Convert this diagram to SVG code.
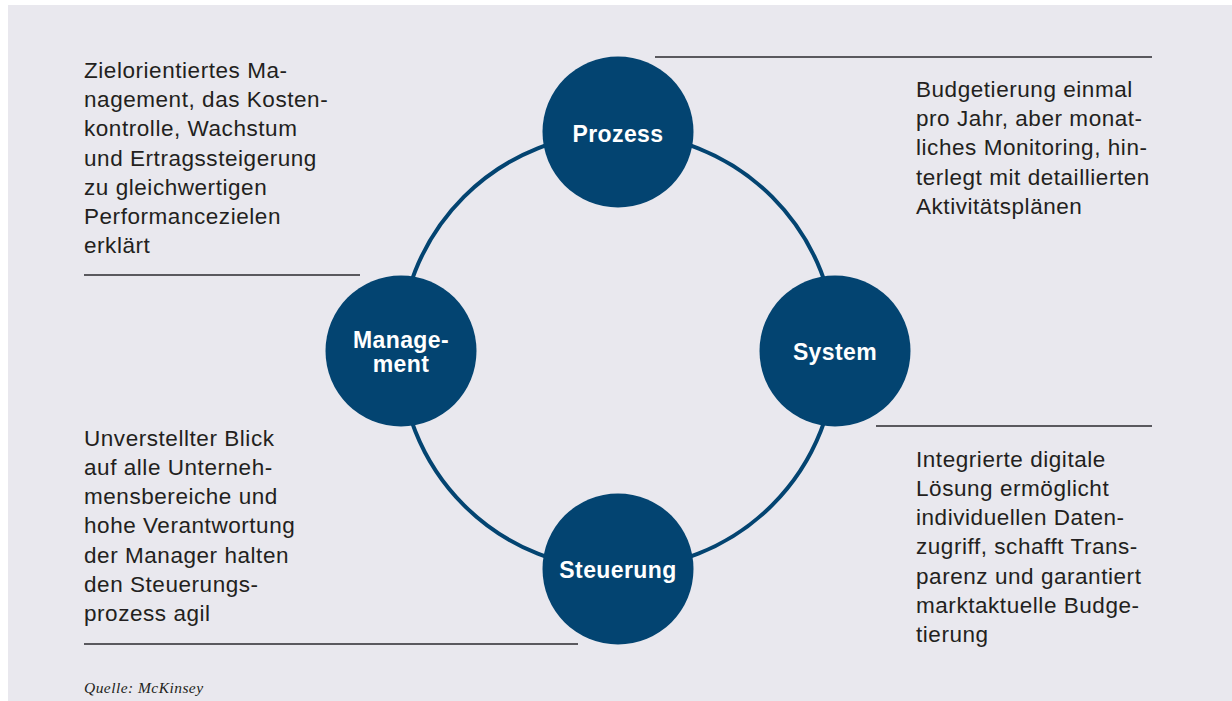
<svg xmlns="http://www.w3.org/2000/svg" width="1232" height="701" viewBox="0 0 1232 701">
  <style>
    .node { fill: #034471; }
    .ring { fill: none; stroke: #034471; stroke-width: 4; }
    .rule { stroke: #2a2a2e; stroke-width: 1.5; fill: none; }
    .label { font-family: "Liberation Sans", Arial, sans-serif; font-weight: bold; font-size: 23px; fill: #ffffff; text-anchor: middle; letter-spacing: 0.4px; }
    .body { font-family: "Liberation Sans", Arial, sans-serif; font-size: 22.5px; fill: #231f20; letter-spacing: 0.55px; }
    .src { font-family: "Liberation Serif", "Times New Roman", serif; font-style: italic; font-size: 15.5px; fill: #231f20; letter-spacing: 0.45px; }
  </style>
  <rect x="8" y="5" width="1224" height="696" fill="#e9e8ee"/>

  <g id="connectors">
    <circle class="ring" cx="618" cy="351" r="218"/>
    <line class="rule" x1="655" y1="57" x2="1152" y2="57"/>
    <line class="rule" x1="84" y1="275" x2="360" y2="275"/>
    <line class="rule" x1="876" y1="426" x2="1152" y2="426"/>
    <line class="rule" x1="84" y1="644" x2="578" y2="644"/>
  </g>

  <g id="node-prozess">
    <circle class="node" cx="618" cy="132" r="75.5"/>
    <text class="label" x="618" y="141.5">Prozess</text>
  </g>
  <g id="node-system">
    <circle class="node" cx="835" cy="351" r="75.5"/>
    <text class="label" x="835" y="359.5">System</text>
  </g>
  <g id="node-management">
    <circle class="node" cx="401" cy="351" r="75.5"/>
    <text class="label" x="401" y="347.5">Manage-</text>
    <text class="label" x="401" y="371.5">ment</text>
  </g>
  <g id="node-steuerung">
    <circle class="node" cx="618" cy="569" r="75.5"/>
    <text class="label" x="618" y="577.5">Steuerung</text>
  </g>

  <g id="text-top-left">
    <text class="body" x="84" y="78">Zielorientiertes Ma-</text>
    <text class="body" x="84" y="107.2">nagement, das Kosten-</text>
    <text class="body" x="84" y="136.4">kontrolle, Wachstum</text>
    <text class="body" x="84" y="165.6">und Ertragssteigerung</text>
    <text class="body" x="84" y="194.8">zu gleichwertigen</text>
    <text class="body" x="84" y="224">Performancezielen</text>
    <text class="body" x="84" y="253.2">erklärt</text>
  </g>

  <g id="text-top-right">
    <text class="body" x="916" y="97">Budgetierung einmal</text>
    <text class="body" x="916" y="126.2">pro Jahr, aber monat-</text>
    <text class="body" x="916" y="155.4">liches Monitoring, hin-</text>
    <text class="body" x="916" y="184.6">terlegt mit detaillierten</text>
    <text class="body" x="916" y="213.8">Aktivitätsplänen</text>
  </g>

  <g id="text-bottom-left">
    <text class="body" x="84" y="445.8">Unverstellter Blick</text>
    <text class="body" x="84" y="475">auf alle Unterneh-</text>
    <text class="body" x="84" y="504.2">mensbereiche und</text>
    <text class="body" x="84" y="533.4">hohe Verantwortung</text>
    <text class="body" x="84" y="562.6">der Manager halten</text>
    <text class="body" x="84" y="591.8">den Steuerungs-</text>
    <text class="body" x="84" y="621">prozess agil</text>
  </g>

  <g id="text-bottom-right">
    <text class="body" x="916" y="466.7">Integrierte digitale</text>
    <text class="body" x="916" y="495.9">Lösung ermöglicht</text>
    <text class="body" x="916" y="525.1">individuellen Daten-</text>
    <text class="body" x="916" y="554.3">zugriff, schafft Trans-</text>
    <text class="body" x="916" y="583.5">parenz und garantiert</text>
    <text class="body" x="916" y="612.7">marktaktuelle Budge-</text>
    <text class="body" x="916" y="641.9">tierung</text>
  </g>

  <text class="src" x="84" y="693">Quelle: McKinsey</text>
</svg>
